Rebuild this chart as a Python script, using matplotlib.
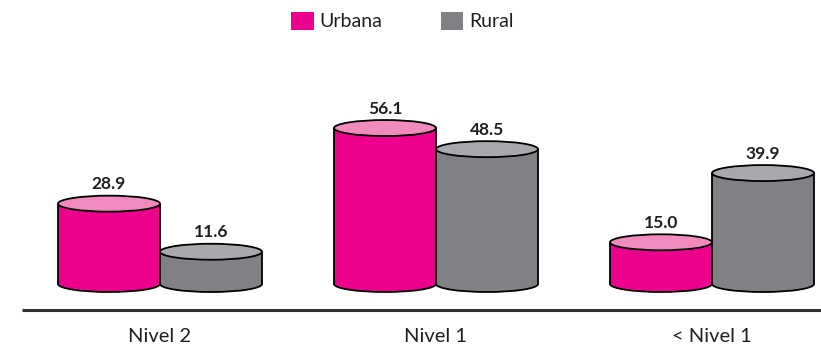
import matplotlib
matplotlib.use("Agg")
import matplotlib.pyplot as plt
from matplotlib.patches import Ellipse, Rectangle, Patch

categories = ["Nivel 2", "Nivel 1", "< Nivel 1"]
series_names = ["Urbana", "Rural"]
urbana = [28.9, 56.1, 15.0]
rural = [11.6, 48.5, 39.9]

body_colors = ["#EC008C", "#808184"]
top_colors = ["#F28BBD", "#A7A9AC"]
text_color = "#231F20"

plt.rcParams["font.family"] = ["Lato", "DejaVu Sans"]

W, H = 821, 348
fig = plt.figure(figsize=(W / 100, H / 100), dpi=100)
ax = fig.add_axes([0, 0, 1, 1])
ax.set_axis_off()

# pixel mapping: group centers at 160, 437, 712 px; base at 284 px; 2.78 px per unit
px_per_x = 276.0
px_per_y = 2.78
base_px = 284.0
ax.set_xlim(-160 / px_per_x, (W - 160) / px_per_x)
ax.set_ylim(-(H - base_px) / px_per_y, base_px / px_per_y)

bar_w = 102 / px_per_x
ell_h = 16 / px_per_y
lw = 1.3

def cylinder(cx, v, body, top, z):
    x0 = cx - bar_w / 2
    ax.add_patch(Ellipse((cx, 0), bar_w, ell_h, facecolor=body, edgecolor="black", lw=lw, zorder=z))
    ax.add_patch(Rectangle((x0, 0), bar_w, v, facecolor=body, edgecolor="none", zorder=z + 0.1))
    ax.plot([x0, x0], [0, v], color="black", lw=lw, zorder=z + 0.2, solid_capstyle="butt")
    ax.plot([x0 + bar_w, x0 + bar_w], [0, v], color="black", lw=lw, zorder=z + 0.2, solid_capstyle="butt")
    ax.add_patch(Ellipse((cx, v), bar_w, ell_h, facecolor=top, edgecolor="black", lw=lw, zorder=z + 0.3))
    ax.text(cx, v + 7.0, f"{v:.1f}", ha="center", va="center", fontsize=12.5,
            fontweight="bold", color=text_color, zorder=z + 1)

for i, cat in enumerate(categories):
    for j, vals in enumerate([urbana, rural]):
        cx = i + (j - 0.5) * bar_w
        cylinder(cx, vals[i], body_colors[j], top_colors[j], z=2 + j)
    ax.text(i, -(336 - base_px) / px_per_y, cat, ha="center", va="center",
            fontsize=14.5, color=text_color)

# baseline
ax.plot([(22 - 160) / px_per_x, (W - 160) / px_per_x], [-(310 - base_px) / px_per_y] * 2,
        color="#333333", lw=2.2, zorder=1, solid_capstyle="butt")

handles = [Patch(facecolor=c, edgecolor="none") for c in body_colors]
leg = fig.legend(handles, series_names, loc="center", bbox_to_anchor=(0.49, 1 - 21 / H),
                 ncol=2, frameon=False, fontsize=14, handlelength=1.15, handleheight=1.05,
                 handletextpad=0.3, columnspacing=3.0, borderpad=0)
for t in leg.get_texts():
    t.set_color(text_color)

fig.savefig("out.png", dpi=100)
